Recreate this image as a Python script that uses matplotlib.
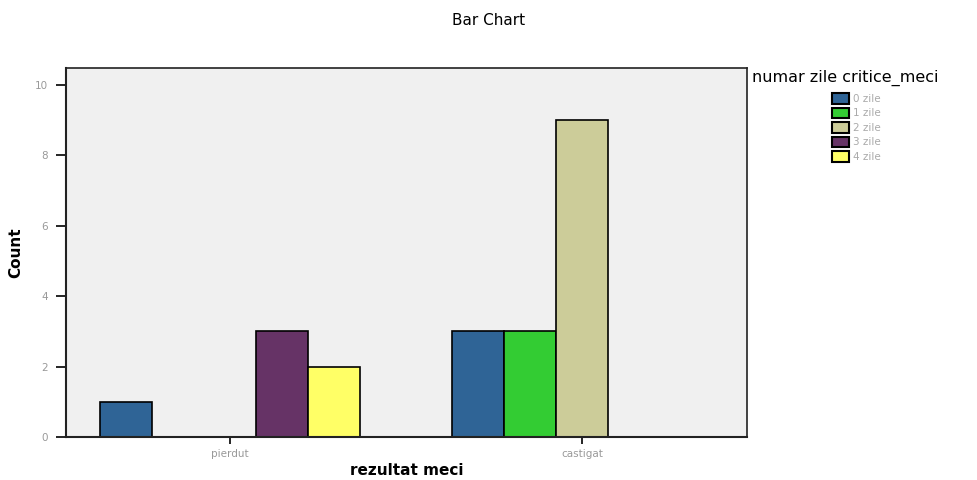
import numpy as np
import matplotlib.pyplot as plt
from matplotlib.patches import Patch

categories = ['pierdut', 'castigat']
series = ['0 zile', '1 zile', '2 zile', '3 zile', '4 zile']
counts = {
    '0 zile': [1, 3],
    '1 zile': [0, 3],
    '2 zile': [0, 9],
    '3 zile': [3, 0],
    '4 zile': [2, 0],
}
colors = ['#2f6496', '#33cc33', '#cccc99', '#663366', '#ffff66']

fig = plt.figure(figsize=(9.78, 4.8), dpi=100)
ax = fig.add_axes([0.0675, 0.0896, 0.6965, 0.7684])
ax.set_facecolor('#f0f0f0')

x = np.arange(len(categories))
w = 0.148
for i, s in enumerate(series):
    vals = counts[s]
    for j, v in enumerate(vals):
        if v > 0:
            ax.bar(x[j] + (i - 2) * w, v, width=w, color=colors[i],
                   edgecolor='black', linewidth=1.2)

ax.set_xlim(-0.466, 1.469)
ax.set_ylim(0, 10.48)
ax.set_yticks([0, 2, 4, 6, 8, 10])
ax.set_xticks(x)
ax.set_xticklabels(categories, color='#999999', fontsize=7.5)
ax.tick_params(axis='y', labelcolor='#999999', labelsize=7.5, length=7, width=1.2,
               direction='out', pad=6)
ax.tick_params(axis='x', length=5, width=1.2, direction='out')

for side in ['top', 'right']:
    ax.spines[side].set_visible(False)
for side in ['left', 'bottom']:
    ax.spines[side].set_linewidth(1.5)
    ax.spines[side].set_color('#222222')
ax.plot([-0.466, 1.469], [10.48, 10.48], color='#222222', lw=1.2, clip_on=False)
ax.plot([1.469, 1.469], [0, 10.48], color='#222222', lw=1.2, clip_on=False)

ax.set_ylabel('Count', fontsize=11, fontweight='bold', labelpad=8)
ax.set_xlabel('rezultat meci', fontsize=11, fontweight='bold', labelpad=3)
fig.text(0.5, 0.958, 'Bar Chart', ha='center', va='center', fontsize=11)

# legend
fig.text(752 / 978, 1 - 78 / 480, 'numar zile critice_meci', ha='left',
         va='center', fontsize=11.5)
handles = [Patch(facecolor=c, edgecolor='black', linewidth=1.5) for c in colors]
leg = fig.legend(handles, series, loc='upper left',
                 bbox_to_anchor=(832 / 978, 1 - 93 / 480),
                 frameon=False, fontsize=7.5, borderpad=0, borderaxespad=0,
                 handlelength=1.65, handleheight=1.2,
                 labelspacing=0.35, handletextpad=0.4)
for t in leg.get_texts():
    t.set_color('#aaaaaa')

fig.savefig('out.png', dpi=100)
